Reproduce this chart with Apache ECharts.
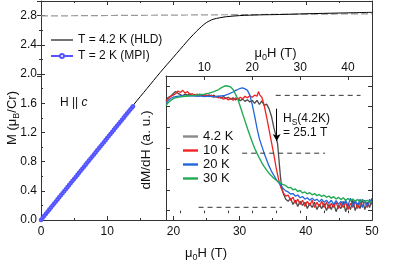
<!DOCTYPE html>
<html><head><meta charset="utf-8">
<script src="https://cdn.jsdelivr.net/npm/echarts@6/dist/echarts.min.js"></script>
<style>html,body{margin:0;padding:0;background:#fff}#c{width:415px;height:264px}</style>
</head><body><div id="c"></div>
<script>
// Main panel: M vs mu0H
const mainXTicks = [0, 10, 20, 30, 40, 50];
const mainYTicks = [0.0, 0.4, 0.8, 1.2, 1.6, 2.0, 2.4, 2.8];
const hldCurve = [[0,0],[2,0.22],[4,0.45],[6,0.67],[8,0.9],[10,1.12],[12,1.35],[14,1.58],[16,1.8],[18,2.02],[20,2.23],[22,2.44],[23,2.54],[24,2.63],[24.5,2.67],[25,2.705],[25.5,2.73],[26,2.75],[27,2.77],[28,2.785],[30,2.8],[33,2.81],[36,2.815],[40,2.825],[45,2.835],[50,2.845]];
const mpiCurve = [[0,0],[0.25,0.03],[0.5,0.057],[0.75,0.086],[1,0.114],[1.25,0.142],[1.5,0.17],[1.75,0.198],[2,0.226],[2.25,0.254],[2.5,0.282],[2.75,0.31],[3,0.338],[3.25,0.366],[3.5,0.394],[3.75,0.422],[4,0.45],[4.25,0.478],[4.5,0.506],[4.75,0.534],[5,0.562],[5.25,0.59],[5.5,0.618],[5.75,0.646],[6,0.674],[6.25,0.702],[6.5,0.73],[6.75,0.758],[7,0.786],[7.25,0.814],[7.5,0.842],[7.75,0.87],[8,0.898],[8.25,0.926],[8.5,0.954],[8.75,0.982],[9,1.01],[9.25,1.038],[9.5,1.066],[9.75,1.094],[10,1.122],[10.25,1.15],[10.5,1.178],[10.75,1.206],[11,1.234],[11.25,1.262],[11.5,1.29],[11.75,1.318],[12,1.346],[12.25,1.374],[12.5,1.402],[12.75,1.43],[13,1.458],[13.25,1.486],[13.5,1.514],[13.75,1.542],[13.9,1.558]];
const satDashed = [[0,2.795],[50,2.825]];

// Inset: dM/dH (a. u.) vs mu0H
const insetXTicks = [10, 20, 30, 40];
const dm4K = [[2,5.3],[2.5,5.45],[3,5.5],[3.5,5.62],[4,5.72],[4.3,5.8],[4.6,5.62],[5,5.6],[5.5,5.52],[6,5.6],[6.5,5.55],[7,5.62],[7.5,5.52],[8,5.58],[8.5,5.5],[9,5.6],[9.5,5.52],[10,5.58],[10.5,5.5],[11,5.57],[11.5,5.48],[12,5.55],[12.5,5.45],[13,5.5],[13.5,5.4],[14,5.48],[14.5,5.38],[15,5.45],[15.5,5.35],[16,5.42],[16.5,5.32],[17,5.4],[17.5,5.28],[18,5.36],[18.5,5.25],[19,5.33],[19.5,5.22],[20,5.3],[20.5,5.15],[21,5.3],[21.5,5.1],[22,5.27],[22.5,5.05],[23,5.12],[23.5,4.9],[24,4.55],[24.5,4.0],[25,3.55],[25.3,3.2],[25.6,2.4],[25.9,1.6],[26.2,1.05],[26.6,0.75],[27,0.55],[27.5,0.45],[28,0.6],[28.5,0.3],[29,0.5],[29.5,0.2],[30,0.45],[30.5,0.25],[31,0.4],[31.5,0.1],[32,0.35],[32.5,0.15],[33,0.4],[33.5,0.05],[34,0.3],[34.5,0.1],[35,0.35],[35.5,0.0],[36,0.3],[36.5,0.05],[37,0.35],[37.5,-0.05],[38,0.25],[38.5,0.1],[39,0.45],[39.5,-0.05],[40,0.3],[40.5,0.05],[41,0.5],[41.5,0.0],[42,0.35],[42.5,0.1],[43,0.55],[43.5,0.05],[44,0.4],[44.5,0.15],[45,0.6]];
const dm10K = [[2,5.25],[2.5,5.4],[3,5.5],[3.5,5.55],[4,5.62],[4.5,5.75],[5,5.68],[5.5,5.78],[6,5.65],[6.5,5.72],[7,5.58],[7.5,5.62],[8,5.52],[8.5,5.6],[9,5.5],[9.5,5.58],[10,5.5],[10.5,5.56],[11,5.48],[11.5,5.55],[12,5.45],[12.5,5.5],[13,5.42],[13.5,5.45],[14,5.35],[14.5,5.42],[15,5.32],[15.5,5.4],[16,5.3],[16.5,5.42],[17,5.35],[17.5,5.45],[18,5.38],[18.5,5.5],[19,5.42],[19.5,5.52],[20,5.45],[20.5,5.55],[21,5.5],[21.3,5.72],[21.6,5.55],[22,5.45],[22.5,5.05],[23,4.5],[23.5,3.9],[24,3.3],[24.5,2.7],[25,2.05],[25.5,1.5],[26,1.1],[26.5,0.85],[27,0.7],[27.5,0.75],[28,0.5],[28.5,0.65],[29,0.35],[29.5,0.55],[30,0.3],[30.5,0.5],[31,0.2],[31.5,0.45],[32,0.25],[32.5,0.5],[33,0.15],[33.5,0.4],[34,0.2],[34.5,0.45],[35,0.15],[35.5,0.4],[36,0.1],[36.5,0.35],[37,0.15],[37.5,0.4],[38,0.1],[38.5,0.35],[39,0.15],[39.5,0.4],[40,0.05],[40.5,0.35],[41,0.15],[41.5,0.45],[42,0.1],[42.5,0.4],[43,0.2],[43.5,0.5],[44,0.15],[44.5,0.45],[45,0.3]];
const dm20K = [[2,5.15],[2.5,5.3],[3,5.4],[3.5,5.45],[4,5.48],[5,5.52],[6,5.5],[7,5.53],[8,5.5],[9,5.52],[10,5.48],[11,5.5],[12,5.47],[13,5.5],[14,5.52],[15,5.6],[16,5.7],[16.5,5.78],[17,5.82],[17.5,5.88],[18,5.9],[18.5,5.85],[19,5.78],[19.5,5.55],[20,5.1],[20.5,4.55],[21,3.95],[21.5,3.45],[22,3.1],[22.5,2.75],[23,2.45],[23.5,2.15],[24,1.9],[24.5,1.7],[25,1.5],[25.5,1.35],[26,1.2],[26.5,1.05],[27,0.95],[27.5,0.9],[28,0.8],[28.5,0.82],[29,0.7],[29.5,0.75],[30,0.62],[30.5,0.68],[31,0.55],[31.5,0.62],[32,0.5],[32.5,0.6],[33,0.48],[33.5,0.55],[34,0.42],[34.5,0.55],[35,0.4],[35.5,0.5],[36,0.35],[36.5,0.5],[37,0.3],[37.5,0.48],[38,0.3],[38.5,0.45],[39,0.28],[39.5,0.5],[40,0.25],[40.5,0.6],[41,0.2],[41.5,0.5],[42,0.25],[42.5,0.55],[43,0.15],[43.5,0.5],[44,0.2],[44.5,0.55],[45,0.3]];
const dm30K = [[2,5.05],[2.5,5.2],[3,5.3],[3.5,5.38],[4,5.42],[5,5.47],[6,5.5],[7,5.52],[8,5.54],[9,5.57],[10,5.6],[11,5.65],[12,5.72],[13,5.82],[13.5,5.9],[14,5.96],[14.5,6.0],[15,5.98],[15.5,5.94],[16,5.82],[16.5,5.6],[17,5.35],[17.5,5.0],[18,4.65],[18.5,4.3],[19,3.95],[19.5,3.62],[20,3.3],[20.5,3.0],[21,2.75],[21.5,2.52],[22,2.3],[22.5,2.12],[23,1.95],[23.5,1.8],[24,1.68],[24.5,1.56],[25,1.46],[25.5,1.38],[26,1.3],[27,1.2],[27.5,1.1],[28,1.12],[28.5,1.0],[29,1.04],[29.5,0.92],[30,0.97],[30.5,0.85],[31,0.9],[31.5,0.8],[32,0.86],[32.5,0.76],[33,0.82],[33.5,0.72],[34,0.78],[34.5,0.68],[35,0.74],[35.5,0.64],[36,0.7],[36.5,0.6],[37,0.67],[37.5,0.56],[38,0.64],[38.5,0.53],[39,0.62],[39.5,0.5],[40,0.58],[40.5,0.48],[41,0.56],[41.5,0.45],[42,0.54],[42.5,0.43],[43,0.52],[43.5,0.42],[44,0.5],[44.5,0.4],[45,0.46]];
const guideTop = [[24.9,5.54],[42.6,5.54]];
const guideMid = [[17.9,2.76],[35.2,2.76]];
const guideLow = [[8.8,0.16],[26.2,0.16]];
const hsField = 25.1;
const hsArrow = [[hsField,4.9],[hsField,3.35]];

const FONT = 'Liberation Sans, Arial, sans-serif';
const AX = '#333';
const chart = echarts.init(document.getElementById('c'));
const tickIn = (len) => ({show: true, inside: true, length: len, lineStyle: {color: AX}});
const sub = {fontSize: 9, fontFamily: FONT, lineHeight: 18, verticalAlign: 'bottom', fill: '#111'};
const lineIcon = (w, h) => 'path://M0,0 H' + w + ' V' + h + ' H0 Z';

chart.setOption({
  animation: false,
  backgroundColor: '#fff',
  textStyle: {fontFamily: FONT},
  grid: [
    {left: 41, right: 43, top: 1, bottom: 44},
    {left: 166, right: 43, top: 76, bottom: 44},
    {left: 41, right: 43, top: 1, bottom: 188}
  ],
  xAxis: [
    {gridIndex: 0, type: 'value', position: 'bottom', min: mainXTicks[0], max: mainXTicks[mainXTicks.length-1], interval: 10,
     axisLine: {onZero: false, lineStyle: {color: AX}}, axisTick: tickIn(4),
     minorTick: {show: true, splitNumber: 2, length: 2, lineStyle: {color: AX}},
     axisLabel: {fontSize: 12, color: '#111', margin: 6, fontFamily: FONT}, splitLine: {show: false}},
    {gridIndex: 0, type: 'value', position: 'top', min: 0, max: 50, interval: 10,
     axisLine: {onZero: false, lineStyle: {color: AX}}, axisTick: tickIn(4),
     minorTick: {show: true, splitNumber: 2, length: 2, lineStyle: {color: AX}},
     axisLabel: {show: false}, splitLine: {show: false}},
    {gridIndex: 1, type: 'value', position: 'top', min: 2, max: 45, minInterval: 10, maxInterval: 10,
     axisLine: {onZero: false, lineStyle: {color: AX}}, axisTick: tickIn(4),
     axisLabel: {fontSize: 12, color: '#111', margin: 2, fontFamily: FONT, showMinLabel: false, showMaxLabel: false,
       formatter: v => insetXTicks.includes(Math.round(v)) ? String(Math.round(v)) : ''},
     splitLine: {show: false}},
    {gridIndex: 1, type: 'value', position: 'top', min: 2, max: 45, minInterval: 5, maxInterval: 5,
     axisLine: {show: false}, axisTick: tickIn(2.5), axisLabel: {show: false}, splitLine: {show: false}},
    {gridIndex: 2, type: 'value', min: 0, max: 50, show: false}
  ],
  yAxis: [
    {gridIndex: 0, type: 'value', position: 'left', min: 0, max: 3, interval: 0.4,
     axisLine: {show: true, onZero: false, lineStyle: {color: AX}}, axisTick: tickIn(4),
     minorTick: {show: true, splitNumber: 2, length: 2, lineStyle: {color: AX}},
     axisLabel: {fontSize: 12, color: '#111', margin: 4, fontFamily: FONT, showMaxLabel: false,
       formatter: v => mainYTicks.some(t => Math.abs(t - v) < 1e-6) ? v.toFixed(1) : ''},
     splitLine: {show: false}},
    {gridIndex: 0, type: 'value', position: 'right', min: 0, max: 3,
     axisLine: {show: true, onZero: false, lineStyle: {color: AX}}, axisTick: {show: false},
     axisLabel: {show: false}, splitLine: {show: false}},
    {gridIndex: 2, type: 'value', position: 'right', min: 1.974, max: 3, minInterval: 0.4, maxInterval: 0.4,
     axisLine: {show: false}, axisTick: tickIn(4),
     minorTick: {show: true, splitNumber: 2, length: 2, lineStyle: {color: AX}},
     axisLabel: {show: false}, splitLine: {show: false}},
    {gridIndex: 1, type: 'value', position: 'left', min: -0.45, max: 6.47, minInterval: 1, maxInterval: 1,
     axisLine: {show: true, onZero: false, lineStyle: {color: AX}}, axisTick: tickIn(4),
     axisLabel: {show: false}, splitLine: {show: false}},
    {gridIndex: 1, type: 'value', position: 'right', min: -0.45, max: 6.47, minInterval: 1, maxInterval: 1,
     axisLine: {show: true, onZero: false, lineStyle: {color: AX}}, axisTick: tickIn(4),
     axisLabel: {show: false}, splitLine: {show: false}}
  ],
  legend: [
    {left: 45, top: 29, orient: 'vertical', itemWidth: 22, itemHeight: 5, itemGap: 4,
     textStyle: {fontSize: 12, color: '#111', fontFamily: FONT},
     data: [{name: 'T = 4.2 K (HLD)', icon: lineIcon(22, 1.1), itemStyle: {color: '#000'}}, 'T = 2 K (MPI)']},
    {left: 178, top: 125, orient: 'vertical', itemWidth: 15, itemHeight: 8, itemGap: 1,
     textStyle: {fontSize: 13, color: '#111', fontFamily: FONT},
     data: [
       {name: '4.2 K', icon: lineIcon(15, 2.4), itemStyle: {color: '#8a8a8a'}},
       {name: '10 K', icon: lineIcon(15, 2.4)},
       {name: '20 K', icon: lineIcon(15, 2.4)},
       {name: '30 K', icon: lineIcon(15, 2.4)}
     ]}
  ],
  graphic: [
    {type: 'text', x: 12, y: 118, rotation: Math.PI/2,
     style: {text: 'M (μ{s|B}/Cr)', rich: {s: sub}, fontSize: 13, fontFamily: FONT, lineHeight: 18, fill: '#111', align: 'center', verticalAlign: 'middle'}},
    {type: 'text', x: 206, y: 253,
     style: {text: 'μ{s|0}H (T)', rich: {s: sub}, fontSize: 13, fontFamily: FONT, lineHeight: 18, fill: '#111', align: 'center', verticalAlign: 'middle'}},
    {type: 'text', x: 275.5, y: 53,
     style: {text: 'μ{s|0}H (T)', rich: {s: sub}, fontSize: 13, fontFamily: FONT, lineHeight: 18, fill: '#111', align: 'center', verticalAlign: 'middle'}},
    {type: 'text', x: 146, y: 150, rotation: Math.PI/2,
     style: {text: 'dM/dH (a. u.)', fontSize: 13.5, fontFamily: FONT, fill: '#111', align: 'center', verticalAlign: 'middle'}},
    {type: 'text', x: 60, y: 103,
     style: {text: 'H || {i|c}', rich: {i: {fontStyle: 'italic', fontSize: 12, fontFamily: FONT, fill: '#111'}}, fontSize: 12, fontFamily: FONT, fill: '#111', align: 'left', verticalAlign: 'middle'}},
    {type: 'text', x: 283, y: 119,
     style: {text: 'H{s|S}(4.2K)', rich: {s: {fontSize: 8.5, fontFamily: FONT, lineHeight: 17, verticalAlign: 'bottom', fill: '#111'}}, fontSize: 12, fontFamily: FONT, lineHeight: 17, fill: '#111', align: 'left', verticalAlign: 'middle'}},
    {type: 'text', x: 283, y: 133,
     style: {text: '= 25.1 T', fontSize: 12, fontFamily: FONT, fill: '#111', align: 'left', verticalAlign: 'middle'}}
  ],
  series: [
    {type: 'line', xAxisIndex: 0, yAxisIndex: 0, data: satDashed, symbol: 'none', silent: true,
     lineStyle: {color: '#999', width: 1.2, type: [7, 3]}, z: 1},
    {name: 'T = 4.2 K (HLD)', type: 'line', xAxisIndex: 0, yAxisIndex: 0, data: hldCurve, symbol: 'none', smooth: 0.3,
     color: '#000', lineStyle: {color: '#000', width: 1}, z: 2},
    {name: 'T = 2 K (MPI)', type: 'line', xAxisIndex: 0, yAxisIndex: 0, data: mpiCurve, symbol: 'emptyCircle', symbolSize: 2.6,
     color: '#5555ff', itemStyle: {color: '#5555ff', borderWidth: 0.5},
     lineStyle: {color: '#5555ff', width: 0.6}, z: 3},
    {name: '4.2 K', type: 'line', xAxisIndex: 2, yAxisIndex: 3, data: dm4K, symbol: 'none',
     color: '#4a4a4a', lineStyle: {color: '#4a4a4a', width: 1.3}, z: 4},
    {name: '10 K', type: 'line', xAxisIndex: 2, yAxisIndex: 3, data: dm10K, symbol: 'none',
     color: '#f22222', lineStyle: {color: '#f22222', width: 1.3}, z: 5},
    {name: '20 K', type: 'line', xAxisIndex: 2, yAxisIndex: 3, data: dm20K, symbol: 'none',
     color: '#2266dd', lineStyle: {color: '#2266dd', width: 1.3}, z: 6},
    {name: '30 K', type: 'line', xAxisIndex: 2, yAxisIndex: 3, data: dm30K, symbol: 'none',
     color: '#22aa55', lineStyle: {color: '#22aa55', width: 1.4}, z: 7},
    {type: 'line', xAxisIndex: 2, yAxisIndex: 3, data: guideTop, symbol: 'none', silent: true,
     lineStyle: {color: '#333', width: 1, type: [5, 4]}, z: 8},
    {type: 'line', xAxisIndex: 2, yAxisIndex: 3, data: guideMid, symbol: 'none', silent: true,
     lineStyle: {color: '#333', width: 1, type: [5, 4]}, z: 8},
    {type: 'line', xAxisIndex: 2, yAxisIndex: 3, data: guideLow, symbol: 'none', silent: true,
     lineStyle: {color: '#333', width: 1, type: [5, 4]}, z: 8},
    {type: 'line', xAxisIndex: 2, yAxisIndex: 3, data: [], symbol: 'none', silent: true, z: 9,
     markLine: {silent: true, symbol: ['none', 'arrow'], symbolSize: [6, 7], label: {show: false},
       lineStyle: {color: '#000', width: 1, type: 'solid'},
       data: [[{coord: hsArrow[0]}, {coord: hsArrow[1]}]]}}
  ]
});
</script></body></html>
